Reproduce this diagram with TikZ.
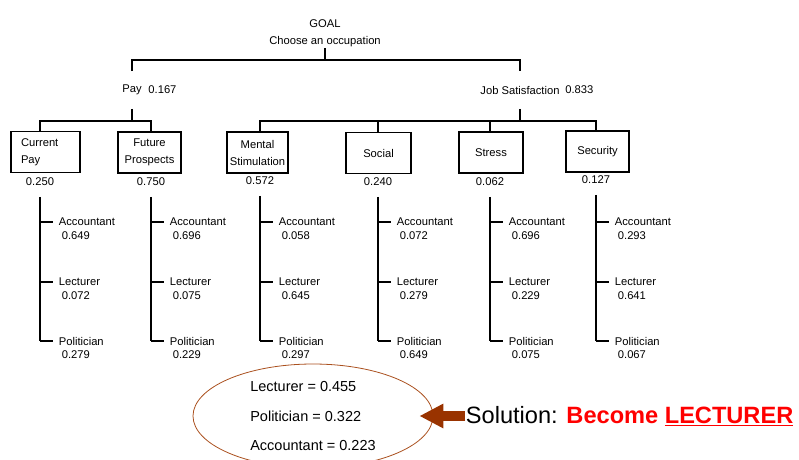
\documentclass[tikz,border=0pt]{standalone}
\usepackage{fontspec}
\setmainfont{Liberation Sans}
\usetikzlibrary{positioning,shapes.geometric,arrows.meta}
\definecolor{ringbrown}{RGB}{170,80,30}
\definecolor{arrowbrown}{RGB}{153,51,0}

\begin{document}
\begin{tikzpicture}[x=1pt,y=-1pt,line width=1.8pt,
  every node/.style={font=\fontsize{11.2}{12}\selectfont,inner sep=0pt},
  crit node/.style={draw,minimum width=64pt,minimum height=41pt,
    align=center,font=\fontsize{11.2}{17}\selectfont},
  weight node/.style={minimum height=28pt},
  cat node/.style={minimum height=36pt},
  alt node/.style={anchor=west},
  val node/.style={anchor=north west,xshift=3pt,yshift=-4pt}]

  \useasboundingbox (0,0) rectangle (799,459);

  % goal and main criteria
  \node[anchor=south,align=center,font=\fontsize{11.2}{17}\selectfont] (goal) at (325,48)
    {GOAL\\Choose an occupation};
  \node[cat node] (pay) at (132,90) {Pay};
  \node[anchor=west] (payv) at ([xshift=5pt]pay.east) {0.167};
  \node[cat node] (job) at (520,90) {Job Satisfaction};
  \node[anchor=west] (jobv) at ([xshift=4pt]job.east) {0.833};

  % sub-criteria
  \node[crit node,minimum width=69pt,text width=49pt,align=left] (cp) at (45.5,152) {Current\\Pay};
  \node[crit node,minimum width=63pt] (fp) at (149.5,152.5) {Future\\Prospects};
  \node[crit node,minimum width=61pt] (ms) at (257.5,152.5) {Mental\\Stimulation};
  \node[crit node,minimum width=65pt] (so) at (378.5,153) {Social};
  \node[crit node] (st) at (491,152.5) {Stress};
  \node[crit node,minimum width=63pt] (se) at (597.5,151.5) {Security};

  \node[weight node] (cpw) at (40,182) {0.250};
  \node[weight node] (fpw) at (151,182) {0.750};
  \node[weight node] (msw) at (260,181) {0.572};
  \node[weight node] (sow) at (378,182) {0.240};
  \node[weight node] (stw) at (490,182) {0.062};
  \node[weight node] (sew) at (596,180) {0.127};

  % tree
  \draw (goal.south) -- ++(0,12) coordinate (goalj);
  \draw (pay.north) |- (goalj) -| (job.north);
  \draw (pay.south) -- ++(0,12) coordinate (payj);
  \draw (cpw |- cp.north) |- (payj) -| (fpw |- fp.north);
  \draw (job.south) -- ++(0,12) coordinate (jobj);
  \draw (msw |- ms.north) |- (jobj) -| (sew |- se.north);
  \draw (jobj) -| (sow |- so.north);
  \draw (jobj) -| (stw |- st.north);

  % alternatives
  \foreach \n/\x/\va/\vl/\vp in {cp/40/0.649/0.072/0.279, fp/151/0.696/0.075/0.229,
      ms/260/0.058/0.645/0.297, so/378/0.072/0.279/0.649,
      st/490/0.696/0.229/0.075, se/596/0.293/0.641/0.067}{
    \foreach \k/\who/\y/\v in {a/Accountant/222/\va, l/Lecturer/282/\vl, p/Politician/341/\vp}{
      \node[alt node] (\n\k) at (\x+18,\y) {\who};
      \node[val node] (\n\k-v) at (\n\k.south west) {\v};
      \draw[shorten >=5pt] (\n w.south |- \n\k.west) -- (\n\k.west);
    }
    \draw (\n w.south) -- (\n w.south |- \n p.west);
  }

  % result
  \node[ellipse,draw=ringbrown,line width=0.8pt,minimum width=240pt,minimum height=104pt,
    align=left,font=\fontsize{14.5}{29.5}\selectfont] (sum) at (313,416)
    {Lecturer = 0.455\\Politician = 0.322\\Accountant = 0.223};
  \node[anchor=west,font=\fontsize{23.6}{28}\selectfont] (sol) at (465,416)
    {Solution: \textcolor{red}{\bfseries Become \underline{LECTURER}}};
  \draw[-{Triangle[length=24pt,width=23pt]},line width=10pt,arrowbrown]
    (sol.west) -- ([xshift=-14pt]sol.west -| sum.east);
\end{tikzpicture}
\end{document}
